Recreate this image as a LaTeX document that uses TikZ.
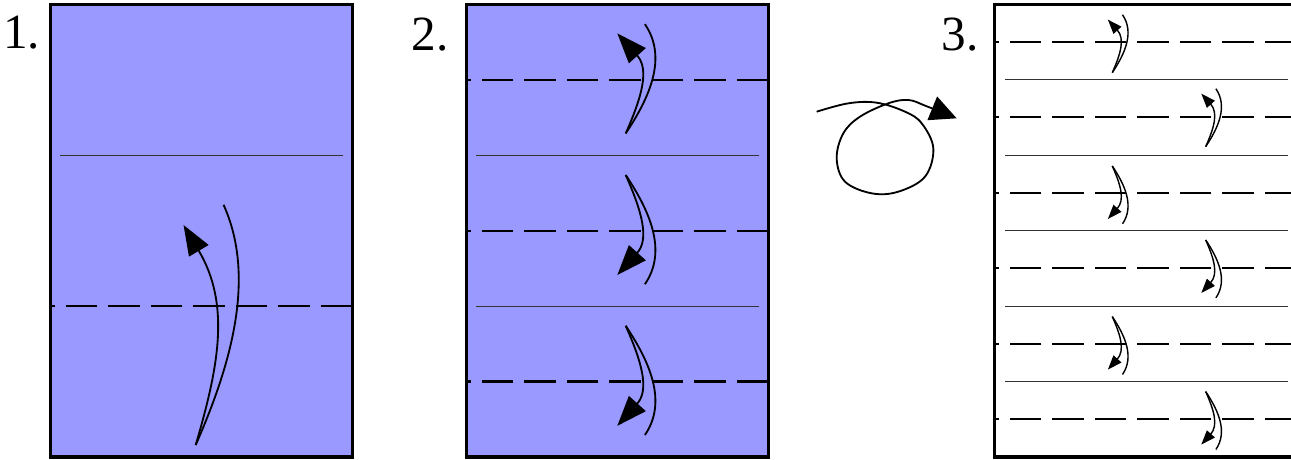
\documentclass[tikz,border=0pt]{standalone}
\usepackage{fontspec}
\setmainfont{Liberation Serif}
\usetikzlibrary{arrows.meta}

\definecolor{paper}{RGB}{153,153,255}

\tikzset{
  foldarrow/.pic={
    \draw[curl]          (0,0) .. controls (0.6,0.9) and (1.05,1.9) .. (0.48,2.73);
    \draw[curl, foldtip] (0,0) .. controls (0.4,0.9) and (0.6,1.6)  .. (-0.21,2.5);
  }
}

\begin{document}
\begin{tikzpicture}[
  sheet/.style   = {line width=2.3pt},
  crease/.style  = {line width=1.5pt, dash pattern=on 0.7875cm off 0.275cm},
  fold/.style    = {line width=0.7pt, black!80},
  curl/.style    = {line width=1.3pt},
  foldtip/.style = {-{Triangle[length=0.75cm, width=0.56cm]}},
  num/.style     = {anchor=base west, inner sep=0pt, font=\fontsize{35}{40}\selectfont},
]

\useasboundingbox (0,0) rectangle (32.275,11.475);

%── Step numbers ─────────────────────────────────────────────────────────────
\node[num] (n1) at (0.07,    10.27) {1.};
\node[num] (n2) at (10.28,   10.225) {2.};
\node[num] (n3) at (23.53,   10.225) {3.};

%── Step 1: one valley fold up ───────────────────────────────────────────────
\begin{scope}[shift={(1.2675,0.05)}]
  \fill[paper]  (0,0) rectangle (7.54,11.32);
  \draw[fold]   (0.24,7.547) -- (7.31,7.547);
  \draw[crease] (7.54,3.773) -- (0,3.773);
  \pic[xscale=1.45, yscale=2.2] at (3.625,0.30) {foldarrow};
  \draw[sheet]  (0,0) rectangle (7.54,11.32);
\end{scope}

%── Step 2: three valley folds ───────────────────────────────────────────────
\begin{scope}[shift={(11.6675,0.05)}]
  \fill[paper] (0,0) rectangle (7.54,11.32);
  \foreach \y in {1,2}   \draw[fold]   (0.24,\y*3.773) -- (7.31,\y*3.773);
  \foreach \y in {1,3,5} \draw[crease] (7.54,\y*1.8867) -- (0,\y*1.8867);
  \pic              at (3.975,8.09) {foldarrow};
  \pic[yscale=-1]   at (3.975,7.05) {foldarrow};
  \pic[yscale=-1]   at (3.975,3.28) {foldarrow};
  \draw[sheet] (0,0) rectangle (7.54,11.32);
\end{scope}

%── Turn over ────────────────────────────────────────────────────────────────
\draw[curl, -{Triangle[length=0.66cm, width=0.63cm]}]
  plot[smooth, tension=0.6] coordinates {
    (20.417,8.683) (21.208,8.892) (21.917,8.908) (22.625,8.683)
    (23.042,8.392) (23.333,7.767) (23.125,7.058) (22.458,6.683)
    (21.792,6.642) (21.125,6.933) (20.917,7.517) (21.083,8.142)
    (21.5,8.558) (22.208,8.892) (22.708,8.975) (23.15,8.825) (23.917,8.517)};

%── Step 3: six valley folds, white side ─────────────────────────────────────
\begin{scope}[shift={(24.8675,0.05)}]
  \foreach \y in {1,...,5}    \draw[fold]   (0.26,\y*1.8867) -- (7.32,\y*1.8867);
  \foreach \y in {1,3,...,11} \draw[crease] (7.54,\y*0.9433) -- (0,\y*0.9433);
  \begin{scope}[curl/.style={line width=1pt},
                foldtip/.style={-{Triangle[length=0.36cm, width=0.26cm]}}]
    \foreach \x/\y/\s in {2.94/9.61/1, 5.275/7.76/1, 2.94/7.275/-1,
                          5.275/5.425/-1, 2.94/3.51/-1, 5.275/1.635/-1}
      \pic[xscale=0.53, yscale=\s*0.53] at (\x,\y) {foldarrow};
  \end{scope}
  \draw[sheet] (0,0) rectangle (7.54,11.32);
\end{scope}

\end{tikzpicture}
\end{document}
